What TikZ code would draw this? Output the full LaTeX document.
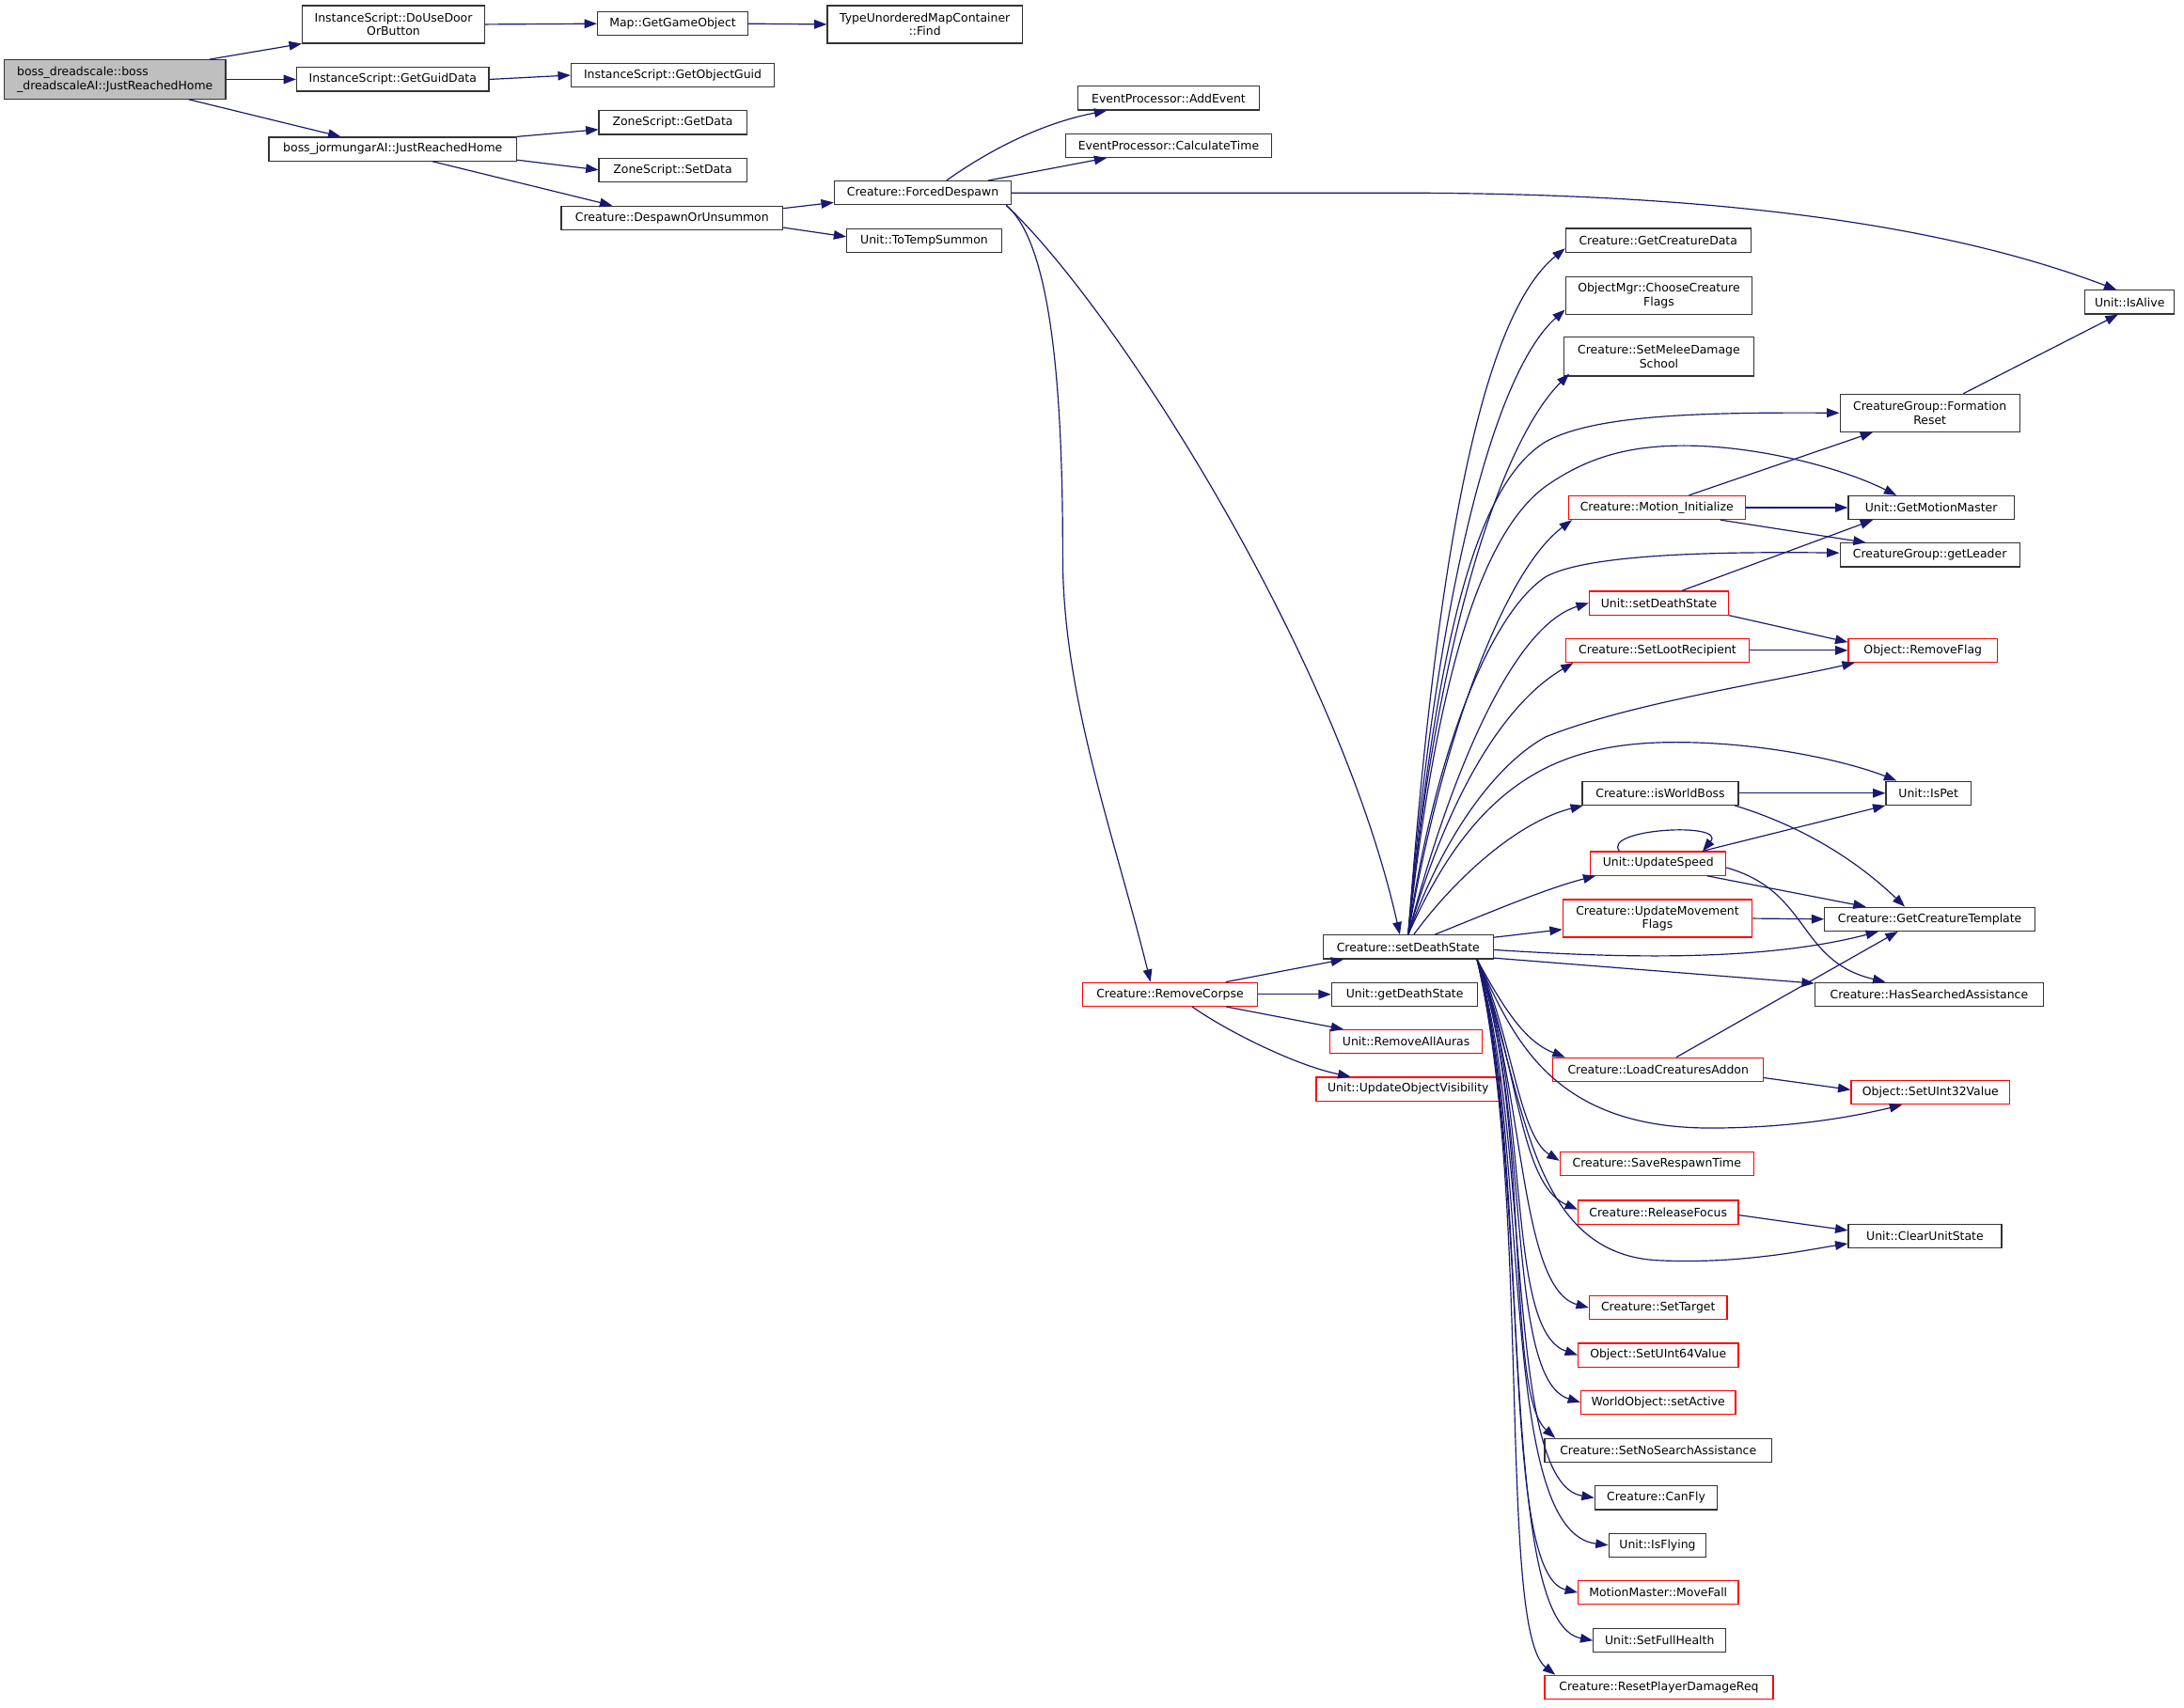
\documentclass[tikz,border=0pt]{standalone}
\usepackage{fontspec}
\setmainfont{DejaVu Sans}
\usetikzlibrary{arrows.meta}
\definecolor{edgec}{HTML}{191970}
\definecolor{nodeb}{HTML}{333333}
\definecolor{rootf}{HTML}{BFBFBF}
\begin{document}
\begin{tikzpicture}[x=1pt,y=-1pt,
 nb/.style={draw=nodeb, line width=0.8pt, rectangle, inner sep=0pt, minimum height=17pt, font=\fontsize{8.4pt}{10pt}\selectfont, align=center},
 nr/.style={nb, draw=red},
 e/.style={draw=edgec, line width=0.8pt, -{Triangle[length=9pt,width=6.5pt]}}
]
\useasboundingbox[fill=white] (0,0) rectangle (1568,1226);

% nodes
\node[nb, fill=rootf, minimum width=159pt, minimum height=28pt, align=left] (root) at (82.5,57) {boss\_dreadscale::boss\\\_dreadscaleAI::JustReachedHome};
\node[nb, minimum width=131pt, minimum height=27pt] (duse) at (282.5,17.5) {InstanceScript::DoUseDoor\\OrButton};
\node[nb, minimum width=138pt] (ggd) at (282,57) {InstanceScript::GetGuidData};
\node[nb, minimum width=178pt] (jorm) at (282,107) {boss\_jormungarAI::JustReachedHome};
\node[nb, minimum width=108pt] (mgo) at (483,17) {Map::GetGameObject};
\node[nb, minimum width=146pt] (gog) at (483,54) {InstanceScript::GetObjectGuid};
\node[nb, minimum width=106pt] (zgd) at (483,88) {ZoneScript::GetData};
\node[nb, minimum width=106pt] (zsd) at (483,122) {ZoneScript::SetData};
\node[nb, minimum width=159pt] (dou) at (482.5,156.5) {Creature::DespawnOrUnsummon};
\node[nb, minimum width=140pt, minimum height=27pt] (tumf) at (664,17.5) {TypeUnorderedMapContainer\\::Find};
\node[nb, minimum width=127pt] (fd) at (662.5,138.5) {Creature::ForcedDespawn};
\node[nb, minimum width=111pt] (tts) at (663.5,173) {Unit::ToTempSummon};
\node[nb, minimum width=130pt] (ae) at (839,70.5) {EventProcessor::AddEvent};
\node[nb, minimum width=148pt] (ct) at (839,104.5) {EventProcessor::CalculateTime};
\node[nb, minimum width=64pt] (alive) at (1529,217) {Unit::IsAlive};
\node[nb, minimum width=133pt] (gcd) at (1190.5,172.5) {Creature::GetCreatureData};
\node[nb, minimum width=134pt, minimum height=27pt] (ccf) at (1191,212.5) {ObjectMgr::ChooseCreature\\Flags};
\node[nb, minimum width=136pt, minimum height=28pt] (smds) at (1191,256) {Creature::SetMeleeDamage\\School};
\node[nb, minimum width=129pt, minimum height=27pt] (fr) at (1385.5,296.5) {CreatureGroup::Formation\\Reset};
\node[nr, minimum width=127pt] (mi) at (1189.5,364.5) {Creature::Motion\_Initialize};
\node[nb, minimum width=119pt] (gmm) at (1386.5,364.5) {Unit::GetMotionMaster};
\node[nb, minimum width=129pt] (gl) at (1385.5,398.5) {CreatureGroup::getLeader};
\node[nr, minimum width=100pt] (usds) at (1191,433) {Unit::setDeathState};
\node[nr, minimum width=132pt] (slr) at (1190,467) {Creature::SetLootRecipient};
\node[nr, minimum width=107pt] (rf) at (1380.5,467) {Object::RemoveFlag};
\node[nb, minimum width=112pt] (iwb) at (1192,569.5) {Creature::isWorldBoss};
\node[nb, minimum width=61pt] (ispet) at (1384.5,569.5) {Unit::IsPet};
\node[nr, minimum width=97pt] (us) at (1190.5,620) {Unit::UpdateSpeed};
\node[nr, minimum width=136pt, minimum height=27pt] (umf) at (1190,659.5) {Creature::UpdateMovement\\Flags};
\node[nb, minimum width=151pt] (gct) at (1385.5,660) {Creature::GetCreatureTemplate};
\node[nb, minimum width=122pt] (sds) at (1011,680) {Creature::setDeathState};
\node[nr, minimum width=126pt] (rc) at (840,714) {Creature::RemoveCorpse};
\node[nb, minimum width=105pt] (gds) at (1008.5,714) {Unit::getDeathState};
\node[nr, minimum width=109pt] (raa) at (1009.5,748) {Unit::RemoveAllAuras};
\node[nr, minimum width=132pt] (uov) at (1011,782) {Unit::UpdateObjectVisibility};
\node[nb, minimum width=164pt] (hsa) at (1385,714) {Creature::HasSearchedAssistance};
\node[nr, minimum width=151pt] (lca) at (1190.5,768) {Creature::LoadCreaturesAddon};
\node[nr, minimum width=114pt] (su32) at (1386,784.5) {Object::SetUInt32Value};
\node[nr, minimum width=139pt] (srt) at (1189.5,835.5) {Creature::SaveRespawnTime};
\node[nr, minimum width=115pt] (relf) at (1190.5,870.5) {Creature::ReleaseFocus};
\node[nb, minimum width=110pt] (cus) at (1382,887.5) {Unit::ClearUnitState};
\node[nr, minimum width=99pt] (st) at (1190.5,939) {Creature::SetTarget};
\node[nr, minimum width=115pt] (su64) at (1190.5,973) {Object::SetUInt64Value};
\node[nr, minimum width=111pt] (sa) at (1190.5,1007) {WorldObject::setActive};
\node[nb, minimum width=163pt] (snsa) at (1190.5,1041.5) {Creature::SetNoSearchAssistance};
\node[nb, minimum width=88pt] (cf) at (1189,1075.5) {Creature::CanFly};
\node[nb, minimum width=70pt] (isf) at (1190,1109.5) {Unit::IsFlying};
\node[nr, minimum width=115pt] (mf) at (1190.5,1143.5) {MotionMaster::MoveFall};
\node[nb, minimum width=95pt] (sfh) at (1191.5,1178) {Unit::SetFullHealth};
\node[nr, minimum width=164pt] (rpdr) at (1191,1211.5) {Creature::ResetPlayerDamageReq};

% left part
\draw[e] ([xshift=-12pt]root.north east) -- (duse.south west);
\draw[e] (root.east) -- (ggd.west);
\draw[e] ([xshift=-27pt]root.south east) -- ([xshift=52pt]jorm.north west);
\draw[e] (duse.east) -- (mgo.west);
\draw[e] (ggd.east) -- (gog.west);
\draw[e] (mgo.east) -- (tumf.west);
\draw[e] (jorm.north east) -- ([yshift=-5pt]zgd.west);
\draw[e] ([yshift=1pt]jorm.south east) -- (zsd.west);
\draw[e] ([xshift=-61pt]jorm.south east) -- ([xshift=37pt]dou.north west);
\draw[e] ([yshift=-2pt]dou.north east) -- ([yshift=2pt]fd.south west);
\draw[e] ([yshift=2pt]dou.south east) -- ([yshift=3pt]tts.west);

% ForcedDespawn
\draw[e] ([xshift=17pt]fd.north) .. controls (700,115) and (740,90) .. ([xshift=21pt]ae.south west);
\draw[e] ([xshift=-17pt]fd.north east) -- ([xshift=30pt]ct.south west);
\draw[e] (fd.east) -- (1000,138.5) .. controls (1200,138.5) and (1380,155) .. ([xshift=23pt]alive.north west);
\draw[e] ([xshift=-4pt]fd.south east) .. controls (755,175) and (763,280) .. (763,400) .. controls (763,500) and (800,600) .. ([xshift=-14pt]rc.north);
\draw[e] ([xshift=-4pt]fd.south east) .. controls (800,220) and (960,470) .. ([xshift=-6pt]sds.north);

% RemoveCorpse
\draw[e] ([xshift=40pt]rc.north) -- ([xshift=15pt]sds.south west);
\draw[e] (rc.east) -- (gds.west);
\draw[e] ([xshift=-23pt]rc.south east) -- ([xshift=10pt]raa.north west);
\draw[e] ([xshift=16pt]rc.south) .. controls (880,740) and (930,765) .. ([xshift=25pt]uov.north west);

% setDeathState upward
\draw[e] (sds.north) .. controls (1030,420) and (1060,230) .. ([yshift=3pt]gcd.south west);
\draw[e] (sds.north) .. controls (1030,440) and (1070,270) .. ([yshift=4pt]ccf.south west);
\draw[e] (sds.north) .. controls (1030,470) and (1075,320) .. ([xshift=4pt,yshift=2pt]smds.south west);
\draw[e] (sds.north) .. controls (1030,480) and (1055,350) .. (1110,317) .. controls (1145,298) and (1220,296) .. (fr.west);
\draw[e] (sds.north) .. controls (1030,500) and (1060,385) .. (1110,349) .. controls (1140,328) and (1170,320) .. (1209,320) .. controls (1260,320) and (1320,335) .. ([xshift=35pt]gmm.north west);
\draw[e] (sds.north) .. controls (1035,530) and (1080,410) .. ([xshift=3pt]mi.south west);
\draw[e] (sds.north) .. controls (1030,540) and (1070,440) .. (1110,414) .. controls (1140,398) and (1230,396) .. ([yshift=1.5pt]gl.west);
\draw[e] (sds.north) .. controls (1040,560) and (1085,450) .. (usds.west);
\draw[e] (sds.north) .. controls (1040,570) and (1080,505) .. ([xshift=6pt]slr.south west);
\draw[e] (sds.north) .. controls (1040,590) and (1080,545) .. (1110,529) .. controls (1170,505) and (1270,490) .. ([xshift=5pt]rf.south west);
\draw[e] (sds.north) .. controls (1060,560) and (1120,533) .. (1203,533) .. controls (1270,533) and (1330,548) .. ([xshift=8pt]ispet.north west);
\draw[e] ([xshift=4pt]sds.north) .. controls (1045,630) and (1090,590) .. ([xshift=1pt]iwb.south west);
\draw[e] ([xshift=19pt]sds.north) .. controls (1070,655) and (1110,638) .. ([xshift=4pt]us.south west);
\draw[e] ([yshift=-2pt]sds.north east) -- ([yshift=6pt]umf.south west);
\draw[e] ([yshift=-2pt]sds.east) .. controls (1150,687) and (1260,692) .. ([xshift=39pt]gct.south west);
\draw[e] ([yshift=1pt]sds.south east) -- ([yshift=-1pt]hsa.north west);

% setDeathState downward bundle
\draw[e] ([xshift=-12pt]sds.south east) .. controls (1080,725) and (1095,748) .. ([xshift=9pt]lca.north west);
\draw[e] ([xshift=-12pt]sds.south east) .. controls (1085,740) and (1110,810) .. (1228,810) .. controls (1285,810) and (1330,802) .. ([xshift=37pt]su32.south west);
\draw[e] ([xshift=-12pt]sds.south east) .. controls (1085,740) and (1090,815) .. ([yshift=2pt]srt.west);
\draw[e] ([xshift=-12pt]sds.south east) .. controls (1090,760) and (1090,850) .. ([yshift=2pt]relf.west);
\draw[e] ([xshift=-12pt]sds.south east) .. controls (1095,780) and (1095,900) .. (1190,905) .. controls (1250,908) and (1300,897) .. ([yshift=-5.5pt]cus.west);
\draw[e] ([xshift=-12pt]sds.south east) .. controls (1095,780) and (1090,925) .. (st.west);
\draw[e] ([xshift=-12pt]sds.south east) .. controls (1100,790) and (1080,955) .. (su64.west);
\draw[e] ([xshift=-12pt]sds.south east) .. controls (1100,800) and (1080,990) .. (sa.west);
\draw[e] ([xshift=-12pt]sds.south east) .. controls (1100,800) and (1080,1000) .. ([xshift=8pt]snsa.north west);
\draw[e] ([xshift=-12pt]sds.south east) .. controls (1100,820) and (1080,1065) .. (cf.west);
\draw[e] ([xshift=-12pt]sds.south east) .. controls (1100,830) and (1075,1100) .. (isf.west);
\draw[e] ([xshift=-12pt]sds.south east) .. controls (1100,840) and (1075,1130) .. (mf.west);
\draw[e] ([xshift=-12pt]sds.south east) .. controls (1100,850) and (1075,1165) .. (sfh.west);
\draw[e] ([xshift=-12pt]sds.south east) .. controls (1100,860) and (1075,1170) .. ([xshift=8pt]rpdr.north west);

% right side
\draw[e] ([xshift=89pt]fr.north west) -- ([xshift=24pt]alive.south west);
\draw[e] ([xshift=87pt]mi.north west) -- ([xshift=24pt]fr.south west);
\draw[e] (mi.east) -- (gmm.west);
\draw[e] ([xshift=-18pt]mi.south east) -- ([xshift=19pt]gl.north west);
\draw[e] ([xshift=67pt]usds.north west) -- ([xshift=18pt]gmm.south west);
\draw[e] (usds.south east) -- ([yshift=-3pt]rf.north west);
\draw[e] (slr.east) -- (rf.west);
\draw[e] (iwb.east) -- (ispet.west);
\draw[e] ([xshift=-3pt]iwb.south east) .. controls (1290,592) and (1330,615) .. ([xshift=58pt]gct.north west);
\draw[e] ([xshift=-17pt]us.north east) -- (ispet.south west);
\draw[e] ([xshift=21pt]us.north west) .. controls (1150,595) and (1240,590) .. ([xshift=-17pt]us.north east);
\draw[e] ([xshift=-14pt]us.south east) -- ([xshift=30pt]gct.north west);
\draw[e] ([yshift=-3pt]us.east) .. controls (1300,640) and (1290,690) .. ([xshift=51pt]hsa.north west);
\draw[e] (umf.east) -- (gct.west);
\draw[e] ([xshift=89pt]lca.north west) -- ([xshift=53pt]gct.south west);
\draw[e] ([yshift=3pt]lca.south east) -- ([yshift=2pt]su32.west);
\draw[e] ([yshift=-2pt]relf.east) -- ([yshift=4pt]cus.west);
\end{tikzpicture}
\end{document}
